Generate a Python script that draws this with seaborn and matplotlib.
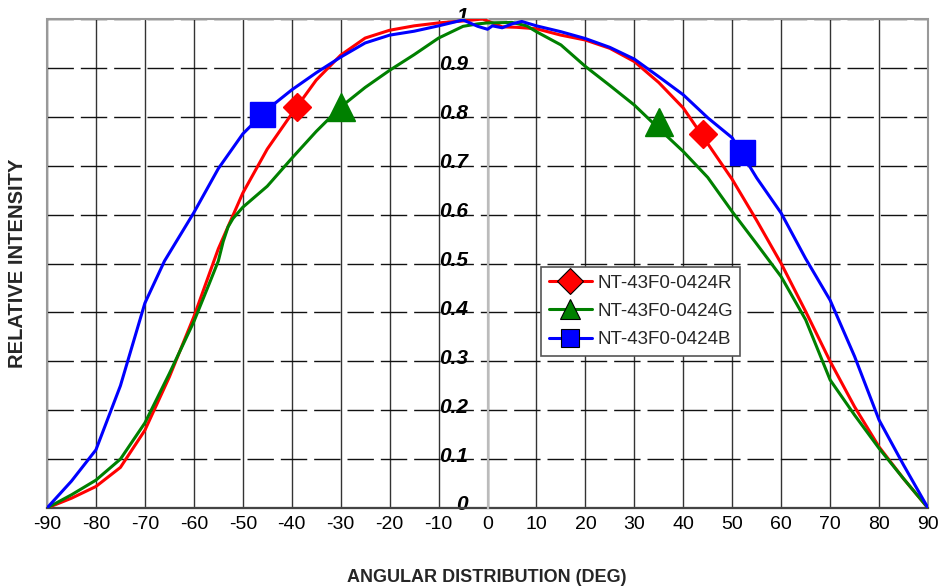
import numpy as np
import pandas as pd
import matplotlib
matplotlib.use("Agg")
import matplotlib.pyplot as plt
import matplotlib.font_manager as fm
from matplotlib.lines import Line2D
from matplotlib.patches import Rectangle
from matplotlib.transforms import ScaledTranslation
import seaborn as sns

# ---------------- data ----------------
red_x = [-90, -85, -80, -75, -70, -65, -60, -55, -50, -45, -40, -35, -30, -25, -20, -15, -10, -5, -1,
         3, 6, 10, 15, 20, 25, 30, 35, 40, 45, 50, 55, 60, 65, 70, 75, 80, 85, 90]
red_y = [0, 0.02, 0.044, 0.083, 0.159, 0.268, 0.391, 0.53, 0.644, 0.734, 0.806, 0.875, 0.926, 0.961,
         0.977, 0.986, 0.992, 0.996, 1.0, 0.984, 0.983, 0.98, 0.967, 0.957, 0.94, 0.913, 0.87, 0.818,
         0.745, 0.672, 0.588, 0.5, 0.402, 0.3, 0.207, 0.125, 0.06, 0]

green_x = [-90, -85, -80, -75, -70, -65, -60, -57, -55, -54, -53, -52, -50, -45, -40, -35, -30, -25, -20,
           -15, -10, -5, -2, 0, 5, 8, 10, 15, 20, 25, 30, 35, 40, 45, 50, 55, 60, 65, 70, 75, 80, 85, 90]
green_y = [0, 0.027, 0.057, 0.1, 0.174, 0.275, 0.381, 0.455, 0.505, 0.545, 0.575, 0.592, 0.615, 0.658,
           0.715, 0.77, 0.82, 0.86, 0.895, 0.927, 0.961, 0.985, 0.99, 0.992, 0.993, 0.986, 0.974, 0.947,
           0.903, 0.864, 0.824, 0.776, 0.729, 0.676, 0.606, 0.54, 0.473, 0.385, 0.262, 0.19, 0.122, 0.06, 0]

blue_x = [-90, -85, -80, -75, -70, -66, -60, -55, -50, -45, -40, -35, -30, -25, -20, -15, -10, -5, -2,
          0, 1, 3, 5, 7, 10, 15, 20, 25, 30, 35, 40, 45, 50, 55, 60, 65, 70, 75, 80, 85, 90]
blue_y = [0, 0.055, 0.119, 0.25, 0.419, 0.505, 0.604, 0.694, 0.765, 0.815, 0.855, 0.89, 0.922, 0.951,
          0.967, 0.975, 0.986, 0.998, 0.985, 0.979, 0.986, 0.982, 0.99, 0.995, 0.986, 0.974, 0.96, 0.942,
          0.918, 0.882, 0.845, 0.798, 0.757, 0.675, 0.603, 0.51, 0.425, 0.31, 0.18, 0.088, 0]

red_mx, red_my = [-39, 44], [0.82, 0.765]
green_mx, green_my = [-30, 35], [0.82, 0.79]
blue_mx, blue_my = [-46, 52], [0.805, 0.727]

series_names = ["NT-43F0-0424R", "NT-43F0-0424G", "NT-43F0-0424B"]
x_ticks = list(range(-90, 91, 10))
y_ticks = [0, 0.1, 0.2, 0.3, 0.4, 0.5, 0.6, 0.7, 0.8, 0.9, 1.0]
y_tick_labels = ["0", "0.1", "0.2", "0.3", "0.4", "0.5", "0.6", "0.7", "0.8", "0.9", "1"]
x_label = "ANGULAR DISTRIBUTION (DEG)"
y_label = "RELATIVE INTENSITY"

# ---------------- style ----------------
sns.set_style("white")
names = {f.name for f in fm.fontManager.ttflist}
base = "Liberation Sans" if "Liberation Sans" in names else "DejaVu Sans"
narrow = "Liberation Sans Narrow" if "Liberation Sans Narrow" in names else base
plt.rcParams["font.family"] = [base, "DejaVu Sans"]

RED, GREEN, BLUE = "#ff0000", "#008000", "#0000ff"

fig = plt.figure(figsize=(9.41, 5.87), dpi=100)
ax = fig.add_axes([47 / 941, 1 - 508 / 587, 881 / 941, 489 / 587])

for xs, ys, c in [(red_x, red_y, RED), (green_x, green_y, GREEN), (blue_x, blue_y, BLUE)]:
    sns.lineplot(x=xs, y=ys, color=c, lw=2.2, ax=ax, zorder=4)

ax.plot(red_mx, red_my, ls="none", marker="D", ms=14, color=RED, mec=RED, zorder=5)
ax.plot(green_mx, green_my, ls="none", marker="^", ms=20, color=GREEN, mec=GREEN, zorder=5)
ax.plot(blue_mx, blue_my, ls="none", marker="s", ms=18, color=BLUE, mec=BLUE, zorder=5)

ax.set_xlim(-90, 90)
ax.set_ylim(0, 1)
ax.set_xticks(x_ticks)
ax.set_xticklabels([str(v) for v in x_ticks])
ax.set_yticks(y_ticks)
ax.set_yticklabels(y_tick_labels)

# grid
ax.grid(axis="x", color="#333333", lw=1.0, ls="-")
ax.grid(axis="y", color="#111111", lw=1.0, ls=(0, (19, 5)))
ax.set_axisbelow(True)

# spines
for s in ["top", "right"]:
    ax.spines[s].set_visible(False)
ax.spines["left"].set_position(("data", 0))
ax.spines["left"].set_color("#bbbbbb")
ax.spines["left"].set_linewidth(1.6)
ax.spines["left"].set_zorder(2.6)
ax.spines["bottom"].set_color("#444444")
ax.spines["bottom"].set_linewidth(1.6)
ax.add_patch(Rectangle((0, 0), 1, 1, transform=ax.transAxes, fill=False,
                       ec="#999999", lw=1.5, clip_on=False, zorder=2.4))

ax.tick_params(axis="x", direction="out", length=6, width=1, color="#444444", pad=0,
               labelsize=14, labelcolor="black")
ax.tick_params(axis="y", direction="out", length=6, width=1, color="#bbbbbb", pad=8,
               labelsize=15, labelcolor="black")

off = ScaledTranslation(0, 5 / 100, fig.dpi_scale_trans)
for lab in ax.get_yticklabels():
    lab.set_fontweight("bold")
    lab.set_fontstyle("italic")
    lab.set_fontsize(15)
    lab.set_transform(lab.get_transform() + off)
for lab in ax.get_xticklabels():
    lab.set_fontfamily([narrow, "DejaVu Sans"])
    lab.set_fontsize(14)

fig.text(487 / 941, 1 - 577 / 587, x_label, ha="center", va="center", weight="bold", size=13)
fig.text(18 / 941, 1 - 263 / 587, y_label, ha="center", va="center", rotation=90,
         weight="bold", size=14.5)

handles = [
    Line2D([], [], color=RED, lw=2.2, marker="D", ms=13, mfc=RED, mec="black", mew=0.8),
    Line2D([], [], color=GREEN, lw=2.2, marker="^", ms=15, mfc=GREEN, mec="black", mew=0.8),
    Line2D([], [], color=BLUE, lw=2.2, marker="s", ms=13, mfc=BLUE, mec="black", mew=0.8),
]
leg = ax.legend(handles, series_names, loc="upper left",
                bbox_to_anchor=((541 - 47) / 881, (508 - 267) / 489), borderaxespad=0,
                fontsize=13.5, frameon=True, fancybox=False, framealpha=1,
                edgecolor="#555555", handlelength=2.3, handletextpad=0.3,
                labelspacing=0.6, borderpad=0.4)
leg.get_frame().set_linewidth(1.2)
leg.set_zorder(6)

fig.savefig("out.png", dpi=100)
